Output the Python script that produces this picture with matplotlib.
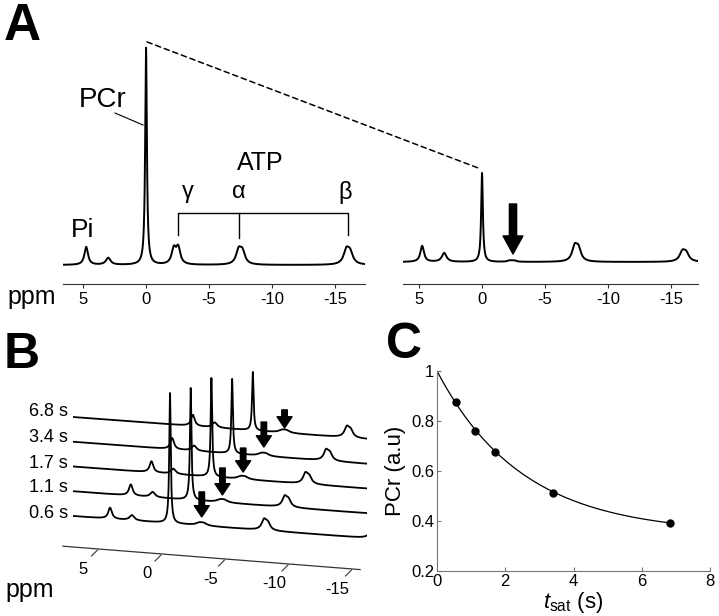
import numpy as np
import matplotlib
matplotlib.use('Agg')
import matplotlib.pyplot as plt
from matplotlib.transforms import Affine2D
from matplotlib.patches import ConnectionPatch, Rectangle

plt.rcParams['font.family'] = ['Liberation Sans', 'DejaVu Sans']
plt.rcParams['mathtext.fontset'] = 'custom'
plt.rcParams['mathtext.rm'] = 'Liberation Sans'
plt.rcParams['mathtext.it'] = 'Liberation Sans:italic'

# ---------------- data ----------------
# Panel A: peak positions (ppm), widths and heights (relative to PCr before saturation)
peak_ppm = [4.75, 3.0, 0.0, -2.2, -2.55, -7.35, -7.65, -15.9, -16.2]
peak_width = [0.17, 0.22, 0.08, 0.2, 0.2, 0.24, 0.24, 0.26, 0.26]
A_left_heights = [0.083, 0.032, 1.0, 0.07, 0.075, 0.062, 0.055, 0.062, 0.05]
A_right_heights = [0.074, 0.041, 0.41, 0.006, 0.006, 0.064, 0.055, 0.042, 0.035]
ppm_ticks = [5, 0, -5, -10, -15]
ppm_ticklabels = ['5', '0', '-5', '-10', '-15']

# Panel B: stacked spectra at different saturation times
B_labels = ['0.6 s', '1.1 s', '1.7 s', '3.4 s', '6.8 s']
B_pcr = [0.88, 0.757, 0.668, 0.505, 0.395]
B_centers = [4.72, 3.0, -2.3, -2.65, -7.4, -7.7, -15.9, -16.25]
B_widths = [0.17, 0.22, 0.3, 0.3, 0.22, 0.22, 0.24, 0.24]
B_other_heights = [0.075, 0.035, 0.015, 0.015, 0.065, 0.045, 0.05, 0.04]  # Pi, 3ppm, gamma x2, alpha x2, beta x2
B_arrow_tail = [0.228, 0.233, 0.211, 0.23, 0.155]
B_arrow_tip = [0.059, 0.051, 0.049, 0.061, 0.033]
gamma_ppm = -2.5

# Panel C: PCr vs saturation time
t_sat = [0.56, 1.12, 1.69, 3.4, 6.83]
pcr_norm = [0.877, 0.76, 0.676, 0.512, 0.391]
fit_Minf = 0.35
fit_T = 2.5
fit_tmax = 6.83
C_xticks = [0, 2, 4, 6, 8]
C_yticks = [0.2, 0.4, 0.6, 0.8, 1.0]
C_yticklabels = ['0.2', '0.4', '0.6', '0.8', '1']

# ---------------- helpers ----------------
ppm = np.linspace(16, -26, 8401)


def spectrum(heights, centers, widths):
    s = np.zeros_like(ppm)
    for h, c, w in zip(heights, centers, widths):
        s += h / (1.0 + ((ppm - c) / w) ** 2)
    return s


W, H = 719, 616
fig = plt.figure(figsize=(W / 100, H / 100), dpi=100)


def rect(x0, y0top, x1, y1top):
    return [x0 / W, (H - y1top) / H, (x1 - x0) / W, (y1top - y0top) / H]


def style_ppm_axis(ax):
    for s in ['top', 'right', 'left']:
        ax.spines[s].set_visible(False)
    ax.spines['bottom'].set_linewidth(0.8)
    ax.spines['bottom'].set_color('#333333')
    ax.set_yticks([])
    ax.set_xticks(ppm_ticks)
    ax.set_xticklabels(ppm_ticklabels)
    ax.tick_params(axis='x', direction='out', length=3, width=0.8, color='#333333',
                   labelsize=12, pad=3)
    ax.patch.set_visible(False)


# ---------------- Panel A ----------------
axL = fig.add_axes(rect(63, 30, 365, 284))
axL.plot(ppm, spectrum(A_left_heights, peak_ppm, peak_width), color='k', lw=1.4)
axL.set_xlim(6.59, -17.38)
axL.set_ylim(-19 / 217, 235 / 217)
style_ppm_axis(axL)

axR = fig.add_axes(rect(403, 30, 698, 284))
axR.plot(ppm, spectrum(A_right_heights, peak_ppm, peak_width), color='k', lw=1.4)
axR.set_xlim(6.27, -17.14)
axR.set_ylim(-22 / 217, 232 / 217)
style_ppm_axis(axR)

con = ConnectionPatch(xyA=(peak_ppm[2] - 0.08, A_left_heights[2] + 0.028), coordsA=axL.transData,
                      xyB=(peak_ppm[2] + 0.16, A_right_heights[2] + 0.02), coordsB=axR.transData,
                      color='k', lw=1.1, linestyle=(0, (3.5, 2.5)))
fig.add_artist(con)

# overlay axes in pixel coordinates
ov = fig.add_axes([0, 0, 1, 1])
ov.set_xlim(0, W)
ov.set_ylim(H, 0)
ov.axis('off')
ov.patch.set_visible(False)

ov.text(22, 27, 'A', fontsize=37, fontweight='bold', ha='center', va='center')
ov.text(103, 100, 'PCr', fontsize=20, ha='center', va='center')
ov.plot([115, 143], [113, 125], color='k', lw=0.8)
ov.text(83, 230, 'Pi', fontsize=19, ha='center', va='center')
ov.text(260, 163, 'ATP', fontsize=18, ha='center', va='center')
ov.text(188, 192, 'γ', fontsize=17, ha='center', va='center')
ov.text(239, 192, 'α', fontsize=17, ha='center', va='center')
ov.text(345, 192, 'β', fontsize=17, ha='center', va='center')
ov.plot([178, 178, 348, 348], [235, 213, 213, 235], color='k', lw=1.0)
ov.plot([239, 239], [213, 238], color='k', lw=1.0)
ov.text(32, 297, 'ppm', fontsize=18, ha='center', va='center')

ov.annotate('', xy=(513, 254), xytext=(513, 204),
            arrowprops=dict(arrowstyle='simple,head_length=0.5,head_width=0.55,tail_width=0.2',
                            fc='k', ec='k', shrinkA=0, shrinkB=0, mutation_scale=26))

# ---------------- Panel B ----------------
ov.text(22, 355, 'B', fontsize=36, fontweight='bold', ha='center', va='center')
clip = Rectangle((73, 300), 294, 260, transform=ov.transData, fill=False, visible=False)
ov.add_patch(clip)
B_label_y = [513, 488, 463, 438, 412]
for k, (lab, hp) in enumerate(zip(B_labels, B_pcr)):
    tr_pix = Affine2D().from_values(-12.7, -0.95, 0, -148, 170 + 20.7 * k, 523.3 - 23.2 * k)
    tr = tr_pix + ov.transData
    spec = spectrum([hp] + B_other_heights, [0.0] + B_centers, [0.07] + B_widths)
    ln, = ov.plot(ppm, spec, color='k', lw=1.3, transform=tr)
    ln.set_clip_path(clip)
    ov.text(68, B_label_y[k], lab, fontsize=13, ha='right', va='center')
    ov.annotate('', xy=(gamma_ppm, B_arrow_tip[k]), xycoords=tr,
                xytext=(gamma_ppm, B_arrow_tail[k]), textcoords=tr,
                arrowprops=dict(arrowstyle='simple,head_length=0.45,head_width=0.6,tail_width=0.22',
                                fc='k', ec='k', shrinkA=0, shrinkB=0, mutation_scale=18))

# oblique ppm axis of panel B
ax_pix = Affine2D().from_values(-12.7, -1.0, 0, 0, 162, 554)
ax_tr = ax_pix + ov.transData
ov.plot([7.8, -15.6], [0, 0], color='#333333', lw=0.9, transform=ax_tr)
for t, tl in zip(ppm_ticks, ppm_ticklabels):
    px, py = ax_pix.transform((t, 0))
    ov.plot([px - 1, px - 7], [py + 1, py + 7], color='#333333', lw=0.8)
    ov.text(px - 15, py + 20, tl, fontsize=12, ha='center', va='center')
ov.text(30, 590, 'ppm', fontsize=18, ha='center', va='center')

# ---------------- Panel C ----------------
axC = fig.add_axes(rect(437, 371, 710, 571))
tt = np.linspace(0, fit_tmax, 300)
axC.plot(tt, fit_Minf + (1 - fit_Minf) * np.exp(-tt / fit_T), color='k', lw=0.9)
axC.plot(t_sat, pcr_norm, 'o', color='k', ms=5)
axC.set_xlim(0, 8)
axC.set_ylim(0.2, 1.0)
axC.set_xticks(C_xticks)
axC.set_yticks(C_yticks)
axC.set_yticklabels(C_yticklabels)
for s in ['top', 'right']:
    axC.spines[s].set_visible(False)
for s in ['left', 'bottom']:
    axC.spines[s].set_color('#777777')
    axC.spines[s].set_linewidth(0.8)
axC.tick_params(direction='in', length=3, width=0.8, color='#777777', labelsize=12, pad=2)
axC.set_ylabel('PCr (a.u)', fontsize=16, labelpad=4)
axC.set_xlabel(r'$t_{\mathrm{sat}}$ (s)', fontsize=16, labelpad=1)
ov.text(404, 345, 'C', fontsize=36, fontweight='bold', ha='center', va='center')

fig.savefig('out.png', dpi=100)
